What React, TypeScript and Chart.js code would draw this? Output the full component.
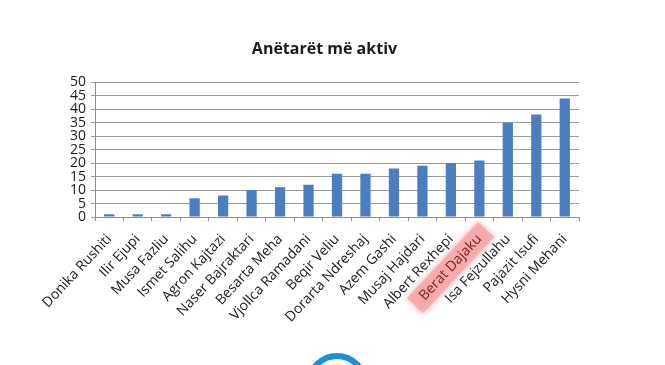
import React, { useEffect, useRef } from "react";
import { Chart, registerables } from "chart.js";

Chart.register(...registerables);

const title = "Anëtarët më aktiv";
const categories = [
  "Donika Rushiti",
  "Ilir Ejupi",
  "Musa Fazliu",
  "Ismet Salihu",
  "Agron Kajtazi",
  "Naser Bajraktari",
  "Besarta Meha",
  "Vjollca Ramadani",
  "Beqir Veliu",
  "Dorarta Ndreshaj",
  "Azem Gashi",
  "Musaj Hajdari",
  "Albert Rexhepi",
  "Berat Dajaku",
  "Isa Fejzullahu",
  "Pajazit Isufi",
  "Hysni Mehani",
];
const values = [1, 1, 1, 7, 8, 10, 11, 12, 16, 16, 18, 19, 20, 21, 35, 38, 44];
const highlighted = "Berat Dajaku";
const yMax = 50;
const yStep = 5;

const FONT = "'Open Sans', 'Liberation Sans', sans-serif";
const X_TICK = 4;
const X_PAD = 10;
const X_FONT_SIZE = 14;
const X_ROT = 47;

const highlightPlugin = {
  id: "highlightLabel",
  beforeDraw(chart: any) {
    const scale = chart.scales.x;
    const idx = categories.indexOf(highlighted);
    if (idx < 0) return;
    const ctx = chart.ctx;
    const px = scale.getPixelForValue(idx);
    const lh = X_FONT_SIZE * 1.2;
    const rot = -(X_ROT * Math.PI) / 180;
    ctx.save();
    ctx.font = `${X_FONT_SIZE}px ${FONT}`;
    const w = ctx.measureText(highlighted).width;
    ctx.translate(px + (lh / 2) * Math.sin(rot), scale.top + X_TICK + X_PAD);
    ctx.rotate(rot);
    ctx.shadowColor = "rgba(240,120,120,0.8)";
    ctx.shadowBlur = 6;
    ctx.fillStyle = "rgba(246,170,170,0.85)";
    ctx.fillRect(-w - 10, lh / 2 - 11, w + 20, 22);
    ctx.restore();
  },
  afterDraw(chart: any) {
    const ctx = chart.ctx;
    ctx.save();
    ctx.strokeStyle = "#1d8fd8";
    ctx.lineWidth = 6;
    ctx.beginPath();
    ctx.arc(337, 384, 28, Math.PI, 2 * Math.PI);
    ctx.stroke();
    ctx.restore();
  },
};

export default function App() {
  const ref = useRef<HTMLCanvasElement | null>(null);
  useEffect(() => {
    if (!ref.current) return;
    const chart = new Chart(ref.current, {
      type: "bar",
      data: {
        labels: categories,
        datasets: [
          {
            data: values,
            backgroundColor: "#4a7ebf",
            borderWidth: 0,
            categoryPercentage: 1,
            barPercentage: 0.36,
          },
        ],
      },
      options: {
        responsive: false,
        animation: false,
        devicePixelRatio: 1,
        layout: { padding: { left: 0, right: 16, top: 0, bottom: 0 } },
        plugins: {
          legend: { display: false },
          tooltip: { enabled: false },
          title: {
            display: true,
            text: title,
            color: "#1a1a1a",
            font: { family: FONT, size: 16, weight: "bold" },
            padding: { top: 40, bottom: 23 },
          },
        },
        scales: {
          x: {
            offset: true,
            grid: {
              display: true,
              offset: true,
              drawOnChartArea: false,
              drawTicks: true,
              tickLength: X_TICK,
              color: "#8c8c8c",
            },
            border: { display: true, color: "#8c8c8c" },
            ticks: {
              autoSkip: false,
              minRotation: X_ROT,
              maxRotation: X_ROT,
              padding: X_PAD,
              color: (c: any) => (categories[c.index] === highlighted ? "#7a1e1e" : "#1a1a1a"),
              font: { family: FONT, size: X_FONT_SIZE },
            },
            afterFit: (s: any) => {
              s.height = 148;
            },
          },
          y: {
            min: 0,
            max: yMax,
            grid: {
              color: "#9a9a9a",
              tickLength: 4,
            },
            border: { display: true, color: "#8c8c8c" },
            ticks: {
              stepSize: yStep,
              autoSkip: false,
              padding: 5,
              color: "#1a1a1a",
              font: { family: FONT, size: 14, lineHeight: 1 },
            },
            afterFit: (s: any) => {
              s.width = 95;
            },
          },
          yRight: {
            position: "right",
            min: 0,
            max: yMax,
            grid: { display: false, drawTicks: false },
            border: { display: false },
            ticks: { display: false },
            afterFit: (s: any) => {
              s.width = 70;
            },
          },
        },
      },
      plugins: [highlightPlugin],
    });
    return () => chart.destroy();
  }, []);
  return (
    <div style={{ position: "absolute", left: 0, top: 0, width: 665, height: 365, background: "#fff" }}>
      <canvas ref={ref} width={665} height={365} />
    </div>
  );
}
